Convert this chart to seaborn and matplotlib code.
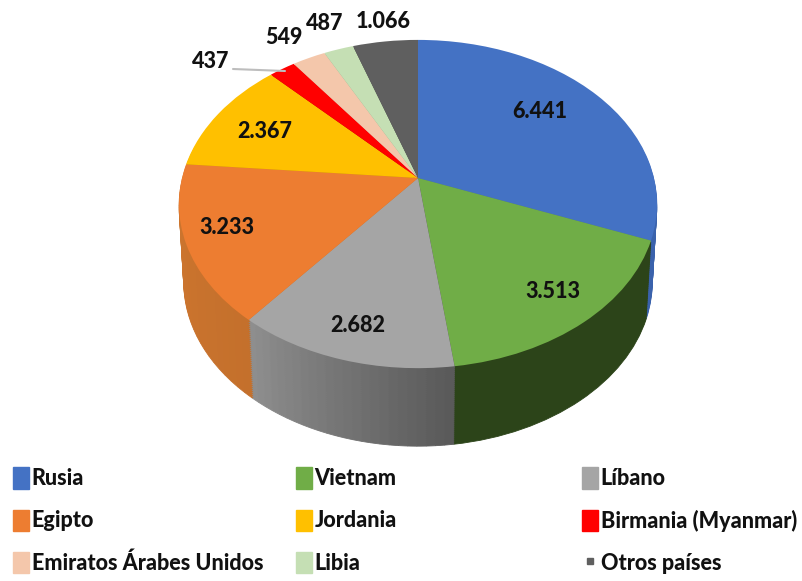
import numpy as np
import seaborn as sns
import matplotlib.pyplot as plt
from matplotlib.lines import Line2D
from matplotlib.patches import Patch
from matplotlib.transforms import Affine2D, Transform

sns.set_theme(style="white")
plt.rcParams['font.family'] = ['Lato', 'DejaVu Sans']
plt.rcParams['font.weight'] = 900

paises = ['Rusia', 'Vietnam', 'Líbano', 'Egipto', 'Jordania', 'Birmania (Myanmar)',
          'Emiratos Árabes Unidos', 'Libia', 'Otros países']
valores = [6441, 3513, 2682, 3233, 2367, 437, 549, 487, 1066]
etiquetas = ['6.441', '3.513', '2.682', '3.233', '2.367', '437', '549', '487', '1.066']
colores = ['#4472C4', '#70AD47', '#A5A5A5', '#ED7D31', '#FFC000', '#FF0000',
           '#F4C7AB', '#C5DFB4', '#5F5F5F']
# wall shade at the start and the end of each slice (clockwise)
pared_ini = ['#3A62AC', '#2C4419', '#5A5A5A', '#C4702C', '#C89600', '#B00000',
             '#C09A84', '#96AA88', '#404040']
pared_fin = ['#3A62AC', '#2C4419', '#8E8E8E', '#D0772F', '#C89600', '#B00000',
             '#C09A84', '#96AA88', '#404040']
texto_xy = [(540, 112), (553, 292), (358, 325), (227, 228), (265, 131),
            (211, 61), (284, 37), (325, 24), (383, 21)]


class Perspectiva(Transform):
    # unit circle -> tilted disc in pixels, the centre sits above the middle
    input_dims = 2
    output_dims = 2

    def transform_non_affine(self, xy):
        xy = np.asarray(xy, dtype=float)
        w = 1 + 0.1586 * xy[:, 1]
        return np.column_stack([418 + 236 * xy[:, 0] / w, 178 - 160 * xy[:, 1] / w])


fig, ax = plt.subplots(figsize=(8.02, 5.81), dpi=100)
fig.subplots_adjust(0, 0, 1, 1)
persp = Perspectiva()

# side wall: same pie stacked downwards, slices split up for the shading
val_pared, col_pared = [], []
for v, a, b in zip(valores, pared_ini, pared_fin):
    n = 24 if a != b else 1
    val_pared += [v / n] * n
    col_pared += list(sns.blend_palette([a, b], n)) if n > 1 else [a]

for prof in range(78, 0, -2):
    wedges, _ = ax.pie(val_pared, colors=col_pared, startangle=90, counterclock=False,
                       wedgeprops=dict(linewidth=0.6))
    # lower layers get a bit narrower, the original has perspective
    capa = Affine2D().translate(-418, 0).scale(1 - 0.02 * prof / 78, 1).translate(418, prof)
    for w, c in zip(wedges, col_pared):
        w.set_edgecolor(c)
        w.set_transform(persp + capa + ax.transData)

wedges, _ = ax.pie(valores, colors=sns.color_palette(colores), startangle=90, counterclock=False,
                   wedgeprops=dict(linewidth=0))
for w in wedges:
    w.set_transform(persp + ax.transData)

ax.set_aspect('auto')
ax.set_xlim(0, 802)
ax.set_ylim(581, 0)

ax.plot([233, 285], [69, 71], color='#BDBDBD', lw=1.5)
for t, (x, y) in zip(etiquetas, texto_xy):
    ax.text(x, y, t, fontsize=15.5, ha='center', va='center', color='#111111')

# one legend per column, the gaps in the original are not even
for i, x in enumerate([9, 292, 578]):
    handles = []
    for j in range(i, 9, 3):
        if paises[j] == 'Otros países':
            handles.append(Line2D([], [], marker='s', ms=4.5, ls='none', color=colores[j]))
        else:
            handles.append(Patch(color=colores[j]))
    leg = fig.legend(handles, paises[i::3], loc='upper left', bbox_to_anchor=(x / 802, 1 - 463 / 581),
                     frameon=False, fontsize=15.5, handlelength=0.75, handleheight=1.15, handletextpad=0.1,
                     labelspacing=0.94, borderpad=0.2, borderaxespad=0, labelcolor='#111111')

fig.savefig('out.png', dpi=100)
